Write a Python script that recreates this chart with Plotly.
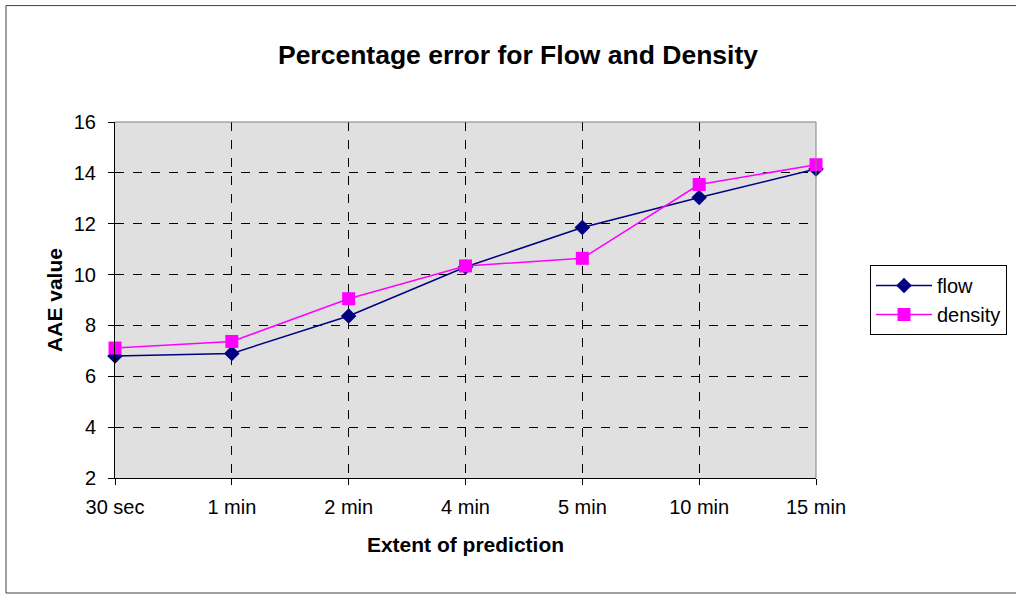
import plotly.graph_objects as go

# Prediction horizons and AAE values per series
categories = ["30 sec", "1 min", "2 min", "4 min", "5 min", "10 min", "15 min"]
flow = [6.8, 6.9, 8.37, 10.3, 11.85, 13.03, 14.15]
density = [7.11, 7.37, 9.05, 10.34, 10.64, 13.54, 14.32]
y_ticks = [2, 4, 6, 8, 10, 12, 14, 16]

x_pos = list(range(len(categories)))

fig = go.Figure()
fig.add_trace(go.Scatter(
    x=x_pos, y=flow, name="flow", mode="lines+markers",
    line=dict(color="#000080", width=1.5),
    marker=dict(symbol="diamond", size=12, color="#000080"),
    cliponaxis=False,
))
fig.add_trace(go.Scatter(
    x=x_pos, y=density, name="density", mode="lines+markers",
    line=dict(color="#FF00FF", width=1.5),
    marker=dict(symbol="square", size=13, color="#FF00FF"),
    cliponaxis=False,
))

font_family = "Liberation Sans, Arial, sans-serif"

fig.update_layout(
    width=1016, height=594,
    margin=dict(l=115, r=200, t=122, b=116, autoexpand=False),
    paper_bgcolor="white",
    plot_bgcolor="#E0E0E0",
    font=dict(family=font_family, size=20, color="black"),
    title=dict(
        text="<b>Percentage error for Flow and Density</b>",
        x=518 / 1016, xref="container", xanchor="center",
        y=1 - 55 / 594, yref="container", yanchor="middle",
        font=dict(size=26.5, family=font_family, color="black"),
    ),
    xaxis=dict(
        range=[0, 6], tickvals=x_pos, ticktext=categories,
        showgrid=True, gridcolor="black", griddash="dash", gridwidth=1,
        showline=True, linecolor="black", linewidth=1,
        ticks="outside", ticklen=6, tickcolor="black",
        ticklabelstandoff=5,
        zeroline=False, fixedrange=True,
        title=dict(text="<b>Extent of prediction</b>", font=dict(size=21), standoff=20),
        tickfont=dict(size=20),
    ),
    yaxis=dict(
        range=[2, 16], tickvals=y_ticks,
        showgrid=True, gridcolor="black", griddash="dash", gridwidth=1,
        showline=True, linecolor="black", linewidth=1,
        ticks="outside", ticklen=6, tickcolor="black",
        ticklabelstandoff=8,
        zeroline=False, fixedrange=True,
        title=dict(text="<b>AAE value</b>", font=dict(size=21), standoff=5),
        tickfont=dict(size=20),
    ),
    legend=dict(
        x=(870 - 115) / 701, y=(478 - 265) / 356, xanchor="left", yanchor="top",
        bordercolor="black", borderwidth=1, bgcolor="white",
        font=dict(size=20), itemwidth=56, tracegroupgap=0,
    ),
    showlegend=True,
)

# Gray frame on the top and right edges of the plotting area
fig.add_shape(type="line", xref="paper", yref="paper", x0=0, y0=1, x1=1, y1=1,
              line=dict(color="#808080", width=1))
fig.add_shape(type="line", xref="paper", yref="paper", x0=1, y0=0, x1=1, y1=1,
              line=dict(color="#808080", width=1))

# Outer chart border (right edge runs past the page)
fig.add_shape(type="rect", xref="paper", yref="paper",
              x0=-0.1555, y0=-0.323, x1=1.30, y1=1.327,
              line=dict(color="#404040", width=1), layer="below")

fig.write_html("out.html")
